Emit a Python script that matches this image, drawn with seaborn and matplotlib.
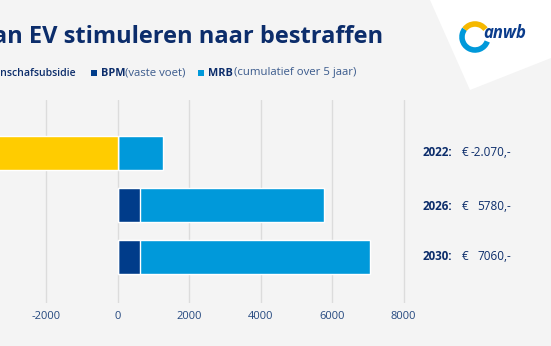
import matplotlib
matplotlib.use("Agg")
import matplotlib.pyplot as plt
import seaborn as sns
import pandas as pd
from matplotlib.patches import Polygon, Rectangle, Arc

# ---- data ----
years = ["2022", "2026", "2030"]
subsidy = [-3350, 0, 0]          # aanschafsubsidie
bpm = [0, 640, 640]              # BPM (vaste voet)
mrb = [1280, 5140, 6420]         # MRB (cumulatief over 5 jaar)
totals = ["€ -2.070,-", "€   5780,-", "€   7060,-"]
xticks = [-2000, 0, 2000, 4000, 6000, 8000]

df = pd.DataFrame({"year": years, "subsidy": subsidy, "bpm": bpm, "mrb": mrb})
df["bpm_mrb"] = df["bpm"] + df["mrb"]

YELLOW = "#FFCC00"
NAVY = "#003C8A"
BLUE = "#0099DA"
TXT = "#0C2D6B"
BG = "#F4F4F4"

sns.set_theme(style="white")
plt.rcParams["font.family"] = ["Open Sans", "DejaVu Sans"]

W, H = 551, 346
fig = plt.figure(figsize=(W / 100, H / 100), dpi=100)
fig.patch.set_facecolor(BG)

def fx(px):
    return px / W

def fy(py):
    return 1 - py / H

# white corner shape
poly = Polygon([[fx(430), fy(0)], [fx(470), fy(90)], [fx(551), fy(58)], [fx(551), fy(0)]],
               closed=True, transform=fig.transFigure, facecolor="white", edgecolor="none", zorder=0)
fig.patches.append(poly)

# axes: left edge at pixel 0, right edge
x0px, zero_px, px_per = 0, 117.5, 71.5 / 2000
xmin = -(zero_px - x0px) / px_per
xmax = 8200
right_px = zero_px + xmax * px_per
top_px, bot_px = 100, 303
ax = fig.add_axes([fx(x0px), fy(bot_px), fx(right_px - x0px), (bot_px - top_px) / H])
ax.set_facecolor("none")

bh = 0.64
sns.barplot(data=df, x="bpm_mrb", y="year", color=BLUE, width=bh, ax=ax, saturation=1, orient="h", zorder=3)
sns.barplot(data=df, x="bpm", y="year", color=NAVY, width=bh, ax=ax, saturation=1, orient="h", zorder=4)
sns.barplot(data=df, x="subsidy", y="year", color=YELLOW, width=bh, ax=ax, saturation=1, orient="h", zorder=4)

ax.set_xlim(xmin, xmax)
ax.set_ylim(2.885, -1.02)
ax.set_xticks(xticks)
ax.set_xticklabels([str(t) for t in xticks])
ax.set_yticks([])
ax.set_xlabel("")
ax.set_ylabel("")
for s in ax.spines.values():
    s.set_visible(False)
ax.tick_params(axis="x", length=0, pad=6, labelsize=8, labelcolor="#24487F")
for t in xticks:
    ax.axvline(t, color="#DCDCDC", lw=1, zorder=1)

# right-hand totals
for i, (yr, tot) in enumerate(zip(years, totals)):
    ypx = [153, 207, 257][i]
    fig.text(fx(423), fy(ypx), yr + ":", fontsize=8.4, fontweight="bold", color=TXT, va="center", ha="left")
    val = tot.replace("€", "").strip()
    fig.text(fx(462), fy(ypx), "€", fontsize=8.5, color=TXT, va="center", ha="left")
    fig.text(fx(511), fy(ypx), val, fontsize=8.5, color=TXT, va="center", ha="right")

# title
fig.text(fx(383), fy(37), "Van EV stimuleren naar bestraffen", fontsize=17.0, fontweight="bold",
         color=TXT, ha="right", va="center")

# legend
ly = 73
fig.text(fx(75.5), fy(ly), "Aanschafsubsidie", fontsize=7.6, fontweight="semibold", color=TXT, ha="right", va="center")
for sqx, bold, rest, rx in [(90.5, "BPM", "(vaste voet)", 125), (198, "MRB", "(cumulatief over 5 jaar)", 234)]:
    col = NAVY if bold == "BPM" else BLUE
    fig.patches.append(Rectangle((fx(sqx), fy(ly + 3)), fx(6), 6 / H, transform=fig.transFigure,
                                 facecolor=col, edgecolor="none"))
    fig.text(fx(sqx + 10), fy(ly), bold, fontsize=7.8, fontweight="bold", color=TXT, ha="left", va="center")
    fig.text(fx(rx), fy(ly), rest, fontsize=8.2, color="#3A5A8C", ha="left", va="center")

# logo
cx, cy = fx(475), fy(37)
fig.patches.append(Arc((cx, cy), 26 / W, 26 / H, theta1=130, theta2=330, lw=4, color="#0099DA",
                       transform=fig.transFigure))
fig.patches.append(Arc((cx, cy), 26 / W, 26 / H, theta1=50, theta2=130, lw=4, color="#F5B800",
                       transform=fig.transFigure))
fig.text(fx(505), fy(33), "anwb", fontsize=12, fontweight="bold", style="italic", color="#0B3C8C",
         ha="center", va="center")

fig.savefig("out.png", dpi=100, facecolor=BG)
